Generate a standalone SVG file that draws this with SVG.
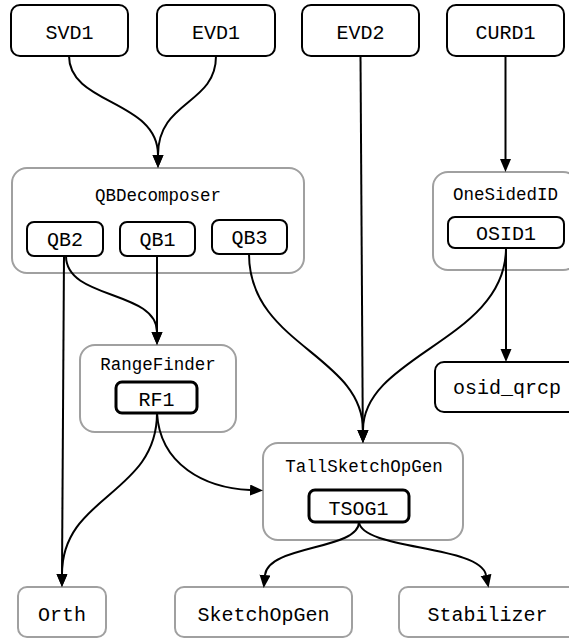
<svg xmlns="http://www.w3.org/2000/svg" width="569" height="639" viewBox="0 0 569 639">
<style>
  .node { fill: #fff; stroke: #000; stroke-width: 2; }
  .bold { fill: #fff; stroke: #000; stroke-width: 3; }
  .cluster { fill: #fff; stroke: #a0a0a0; stroke-width: 2; }
  .leaf { fill: #fff; stroke: #a0a0a0; stroke-width: 2; }
  .lbl { font-family: "Liberation Mono", "Courier New", monospace; font-size: 20px; fill: #000; text-anchor: middle; }
  .title { font-family: "Liberation Mono", "Courier New", monospace; font-size: 17.5px; fill: #000; text-anchor: middle; }
  .edge { fill: none; stroke: #000; stroke-width: 2; }
</style>
<defs>
  <marker id="arr" markerUnits="userSpaceOnUse" markerWidth="14" markerHeight="12" refX="0" refY="5.5" orient="auto">
    <path d="M0,0 L13,5.5 L0,11 z" fill="#000"/>
  </marker>
</defs>

<g id="SVD1"><rect class="node" x="11" y="5" width="117" height="51" rx="9"/><text class="lbl" x="69.5" y="39">SVD1</text></g>
<g id="EVD1"><rect class="node" x="157" y="5" width="118" height="51" rx="9"/><text class="lbl" x="216" y="39">EVD1</text></g>
<g id="EVD2"><rect class="node" x="302" y="5" width="117" height="51" rx="9"/><text class="lbl" x="360.5" y="39">EVD2</text></g>
<g id="CURD1"><rect class="node" x="447" y="5" width="117" height="51" rx="9"/><text class="lbl" x="505.5" y="39">CURD1</text></g>

<g id="QBDecomposer">
  <rect class="cluster" x="12" y="168" width="292" height="105" rx="15"/>
  <text class="title" x="158" y="201">QBDecomposer</text>
  <g id="QB2"><rect class="node" x="27" y="222" width="76" height="34" rx="7"/><text class="lbl" x="65" y="246">QB2</text></g>
  <g id="QB1"><rect class="node" x="120" y="222" width="75" height="34" rx="7"/><text class="lbl" x="157.5" y="246">QB1</text></g>
  <g id="QB3"><rect class="node" x="212" y="220" width="75" height="34" rx="7"/><text class="lbl" x="249.5" y="244">QB3</text></g>
</g>

<g id="OneSidedID">
  <rect class="cluster" x="433" y="172" width="145" height="98" rx="15"/>
  <text class="title" x="505.5" y="200">OneSidedID</text>
  <g id="OSID1"><rect class="node" x="448" y="217" width="116" height="31" rx="7"/><text class="lbl" x="506" y="240">OSID1</text></g>
</g>

<g id="osid_qrcp"><rect class="node" x="435" y="362" width="143" height="50" rx="9"/><text class="lbl" x="507" y="394">osid_qrcp</text></g>

<g id="RangeFinder">
  <rect class="cluster" x="80" y="345" width="156" height="87" rx="15"/>
  <text class="title" x="158" y="370">RangeFinder</text>
  <g id="RF1"><rect class="bold" x="116" y="382" width="81" height="31" rx="6"/><text class="lbl" x="156.5" y="406">RF1</text></g>
</g>

<g id="TallSketchOpGen">
  <rect class="cluster" x="263" y="443" width="200" height="97" rx="15"/>
  <text class="title" x="364" y="472">TallSketchOpGen</text>
  <g id="TSOG1"><rect class="bold" x="309" y="490" width="100" height="32" rx="6"/><text class="lbl" x="358.5" y="515">TSOG1</text></g>
</g>

<g id="Orth"><rect class="leaf" x="18" y="587" width="88" height="50" rx="9"/><text class="lbl" x="62" y="621">Orth</text></g>
<g id="SketchOpGen"><rect class="leaf" x="175" y="587" width="177" height="50" rx="9"/><text class="lbl" x="263.5" y="621">SketchOpGen</text></g>
<g id="Stabilizer"><rect class="leaf" x="399" y="587" width="178" height="50" rx="9"/><text class="lbl" x="487.5" y="621">Stabilizer</text></g>

<g id="connectors">
  <path class="edge" marker-end="url(#arr)" d="M69,56 C69,105 158,100 158,155"/>
  <path class="edge" marker-end="url(#arr)" d="M216,56 C216,105 158,100 158,155"/>
  <path class="edge" marker-end="url(#arr)" d="M360.5,56 L362.8,430"/>
  <path class="edge" marker-end="url(#arr)" d="M505.5,56 L505.5,159"/>
  <path class="edge" marker-end="url(#arr)" d="M249,254 C249,345 363,355 363,430"/>
  <path class="edge" marker-end="url(#arr)" d="M506,248 C506,340 363,355 363,430"/>
  <path class="edge" marker-end="url(#arr)" d="M506,248 L506,349"/>
  <path class="edge" marker-end="url(#arr)" d="M66,256 C66,300 157,290 157,332"/>
  <path class="edge" marker-end="url(#arr)" d="M157,256 L157,332"/>
  <path class="edge" marker-end="url(#arr)" d="M64,256 L62,574"/>
  <path class="edge" marker-end="url(#arr)" d="M157,413 C157,495 62,495 62,574"/>
  <path class="edge" marker-end="url(#arr)" d="M157,413 C160,465 205,488 250,490"/>
  <path class="edge" marker-end="url(#arr)" d="M359,522 C359,550 268,545 265,575"/>
  <path class="edge" marker-end="url(#arr)" d="M359,522 C362,550 480,545 486,575"/>
</g>
</svg>
